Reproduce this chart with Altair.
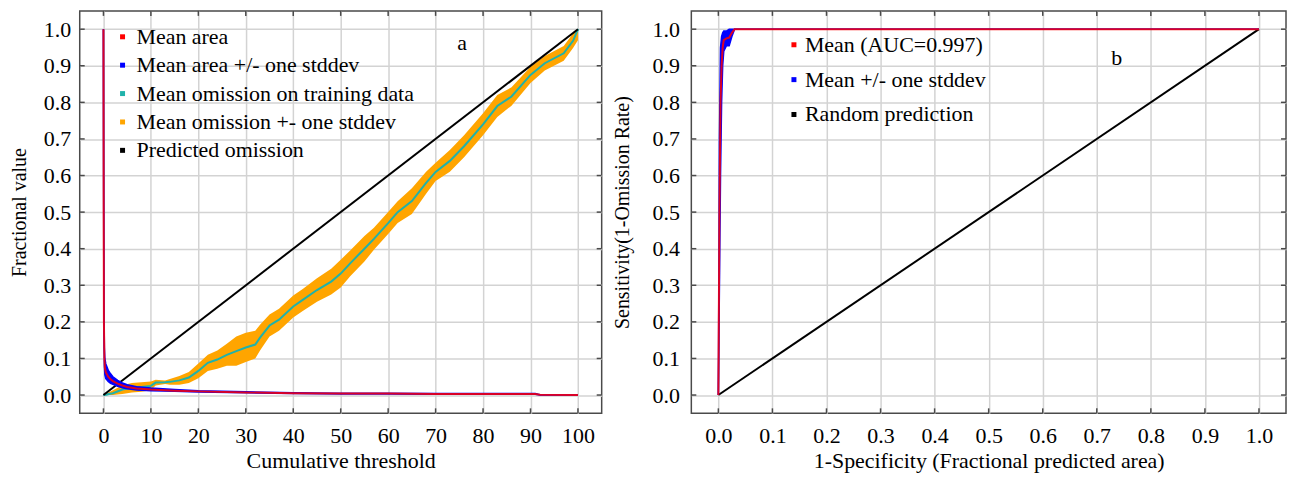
import altair as alt
import pandas as pd

FONT = "Liberation Serif"
FS = 22

# ---------------- Panel a: omission / area vs cumulative threshold ----------------
area_x = [0, 0.05, 0.1, 0.2, 0.3, 0.5, 0.8, 1, 1.5, 2, 3, 4, 5, 7, 10, 15, 20, 30,
          40, 50, 60, 70, 80, 90, 91, 92, 100]
area_mean = [1.0, 0.5, 0.2, 0.1, 0.075, 0.062, 0.055, 0.05, 0.043, 0.038, 0.031, 0.026,
             0.022, 0.018, 0.015, 0.012, 0.01, 0.007, 0.005, 0.004, 0.004, 0.003, 0.003,
             0.003, 0.003, 0.0005, 0.0]
area_lo = [1.0, 0.45, 0.17, 0.08, 0.055, 0.045, 0.04, 0.037, 0.032, 0.029, 0.024, 0.02,
           0.017, 0.014, 0.012, 0.01, 0.008, 0.006, 0.004, 0.003, 0.003, 0.002, 0.002,
           0.002, 0.002, 0.0, 0.0]
area_hi = [1.0, 0.55, 0.25, 0.13, 0.1, 0.085, 0.075, 0.068, 0.058, 0.05, 0.04, 0.033,
           0.028, 0.023, 0.019, 0.015, 0.012, 0.009, 0.006, 0.005, 0.005, 0.004, 0.004,
           0.004, 0.004, 0.001, 0.0]

omit_x = [0, 2, 4, 6, 8, 10, 11, 13, 14, 16, 18, 20, 22, 24, 26, 28, 30, 32, 33, 35, 37,
          40, 42, 45, 48, 50, 52, 55, 57, 60, 62, 65, 68, 70, 73, 76, 80, 83, 86, 90, 93,
          97, 99, 100]
omit_mean = [0, 0.005, 0.015, 0.02, 0.022, 0.025, 0.034, 0.035, 0.036, 0.04, 0.048, 0.066,
             0.088, 0.097, 0.11, 0.12, 0.13, 0.138, 0.157, 0.19, 0.206, 0.242, 0.26, 0.287,
             0.31, 0.332, 0.36, 0.40, 0.427, 0.47, 0.5, 0.53, 0.58, 0.61, 0.64, 0.68, 0.74,
             0.79, 0.816, 0.875, 0.907, 0.934, 0.969, 1.0]
omit_lo = [0, 0, 0.003, 0.007, 0.009, 0.013, 0.026, 0.03, 0.028, 0.028, 0.033, 0.046, 0.066,
           0.072, 0.08, 0.08, 0.09, 0.1, 0.122, 0.16, 0.176, 0.212, 0.23, 0.255, 0.275,
           0.294, 0.325, 0.365, 0.397, 0.44, 0.47, 0.495, 0.55, 0.585, 0.61, 0.65, 0.71,
           0.76, 0.791, 0.853, 0.887, 0.914, 0.949, 0.97]
omit_hi = [0, 0.013, 0.027, 0.033, 0.035, 0.037, 0.042, 0.04, 0.044, 0.052, 0.063, 0.086,
           0.11, 0.122, 0.14, 0.16, 0.17, 0.176, 0.192, 0.22, 0.236, 0.272, 0.29, 0.319,
           0.345, 0.37, 0.395, 0.435, 0.457, 0.5, 0.53, 0.565, 0.61, 0.635, 0.67, 0.71,
           0.77, 0.82, 0.841, 0.897, 0.927, 0.954, 0.989, 1.0]

pred_x = [0, 100]
pred_y = [0.0, 1.0]

a_names = ["Mean area", "Mean area +/- one stddev", "Mean omission on training data",
           "Mean omission +- one stddev", "Predicted omission"]
a_colors = ["#ff0000", "#0000ff", "#20b2aa", "#ffa500", "#000000"]

a_xticks = [0, 10, 20, 30, 40, 50, 60, 70, 80, 90, 100]
frac_ticks = [0.0, 0.1, 0.2, 0.3, 0.4, 0.5, 0.6, 0.7, 0.8, 0.9, 1.0]

# ---------------- Panel b: ROC ----------------
roc_x = [0, 0.002, 0.004, 0.006, 0.008, 0.01, 0.015, 0.02, 0.025, 0.03, 1.0]
roc_mean = [0, 0.5, 0.8, 0.9, 0.95, 0.97, 0.975, 0.977, 0.99, 1.0, 1.0]
roc_lo = [0, 0.3, 0.6, 0.8, 0.9, 0.94, 0.955, 0.955, 0.98, 1.0, 1.0]
roc_hi = [0, 0.7, 0.95, 0.98, 0.99, 0.995, 0.995, 1.0, 1.0, 1.0, 1.0]
rand_x = [0.0, 1.0]
rand_y = [0.0, 1.0]

b_names = ["Mean (AUC=0.997)", "Mean +/- one stddev", "Random prediction"]
b_colors = ["#ff0000", "#0000ff", "#000000"]

BORDER = "#4a4a4a"
H = 404
WA = 524
WB = 597
TICK = 5
RED_OP = 0.85


def make_enc(domain, ticks, fmt, xtitle, ytitle, lp_x, tp_x, lp_y, tp_y):
    xs = alt.Scale(domain=domain, nice=False, zero=False)
    ys = alt.Scale(domain=[-0.05, 1.05], nice=False, zero=False)
    x_main = alt.X("x:Q", scale=xs, axis=alt.Axis(
        values=ticks, tickCount=len(ticks), format=fmt, title=xtitle, grid=True,
        domain=False, ticks=False, tickSize=0, labelPadding=lp_x, titlePadding=tp_x,
        labelFlush=False, labelOverlap=False))
    y_main = alt.Y("y:Q", scale=ys, axis=alt.Axis(
        values=frac_ticks, tickCount=len(frac_ticks), format=".1f", title=ytitle,
        grid=True, domain=False, ticks=False, tickSize=0, labelPadding=lp_y,
        titlePadding=tp_y, labelFlush=False, labelOverlap=False, titleFontSize=20))
    return x_main, y_main


def inner_ticks(xticks, yticks, x_enc, y_enc, w):
    """Short inward tick marks on all four sides, positioned by the scales."""
    dx = pd.DataFrame({"x": xticks})
    dy = pd.DataFrame({"y": yticks})
    st = dict(color=BORDER, strokeWidth=1.5)
    bottom = alt.Chart(dx).mark_rule(**st).encode(
        x=x_enc, y=alt.value(H), y2=alt.value(H - TICK))
    top = alt.Chart(dx).mark_rule(**st).encode(
        x=x_enc, y=alt.value(0), y2=alt.value(TICK))
    left = alt.Chart(dy).mark_rule(**st).encode(
        y=y_enc, x=alt.value(0), x2=alt.value(TICK))
    right = alt.Chart(dy).mark_rule(**st).encode(
        y=y_enc, x=alt.value(w), x2=alt.value(w - TICK))
    return [bottom, top, left, right]


def legend_layer(names, colors, x_enc, y_enc, lx, ly, offset, rowpad):
    df = pd.DataFrame({"series": names, "x": [0.0] * len(names), "y": [0.0] * len(names)})
    return alt.Chart(df).mark_square(opacity=0, size=25).encode(
        x=x_enc, y=y_enc,
        color=alt.Color("series:N", sort=names,
                        scale=alt.Scale(domain=names, range=colors),
                        legend=alt.Legend(orient="none", legendX=lx, legendY=ly,
                                          title=None, symbolType="square",
                                          symbolSize=25, symbolOpacity=1,
                                          symbolStrokeWidth=0, labelFont=FONT,
                                          labelFontSize=FS, labelColor="black",
                                          labelLimit=600, labelOffset=offset,
                                          rowPadding=rowpad, padding=0)))


# ----- panel a -----
xa, ya = make_enc([-5, 105], a_xticks, "d", "Cumulative threshold",
                  "Fractional value", 12, 4, 9, 14)

df_area = pd.DataFrame({"x": area_x, "y": area_mean, "lo": area_lo, "hi": area_hi})
df_omit = pd.DataFrame({"x": omit_x, "y": omit_mean, "lo": omit_lo, "hi": omit_hi})
df_pred = pd.DataFrame({"x": pred_x, "y": pred_y})

a_teal = alt.Chart(df_omit).mark_line(color="#20b2aa", strokeWidth=2).encode(x=xa, y=ya)
a_orange = alt.Chart(df_omit).mark_area(color="#ffa500", opacity=1).encode(
    x=xa, y=alt.Y("lo:Q"), y2="hi:Q")
a_black = alt.Chart(df_pred).mark_line(color="black", strokeWidth=2).encode(x=xa, y=ya)
a_blue = alt.Chart(df_area).mark_area(color="#0000ff", opacity=1).encode(
    x=xa, y=alt.Y("lo:Q"), y2="hi:Q")
a_blue_lo = alt.Chart(df_area).mark_line(color="#0000ff", strokeWidth=1.5).encode(
    x=xa, y=alt.Y("lo:Q"))
a_blue_hi = alt.Chart(df_area).mark_line(color="#0000ff", strokeWidth=1.5).encode(
    x=xa, y=alt.Y("hi:Q"))
a_red = alt.Chart(df_area).mark_line(color="#ff0000", strokeWidth=2,
                                     opacity=RED_OP).encode(x=xa, y=ya)
a_leg = legend_layer(a_names, a_colors, xa, ya, 32, 15, 3, 6.5)
a_txt = alt.Chart(pd.DataFrame({"t": ["a"]})).mark_text(
    font=FONT, fontSize=FS, color="black").encode(
    text="t:N", x=alt.value(384), y=alt.value(32))

panel_a = alt.layer(a_teal, a_orange, a_teal, a_black, a_blue, a_blue_lo, a_blue_hi,
                    a_red, *inner_ticks(a_xticks, frac_ticks, xa, ya, WA),
                    a_leg, a_txt).properties(width=WA, height=H)

# ----- panel b -----
xb, yb = make_enc([-0.05, 1.05], frac_ticks, ".1f",
                  "1-Specificity (Fractional predicted area)",
                  "Sensitivity(1-Omission Rate)", 12, 4, 12, 19.5)

df_roc = pd.DataFrame({"x": roc_x, "y": roc_mean, "lo": roc_lo, "hi": roc_hi})
df_rand = pd.DataFrame({"x": rand_x, "y": rand_y})

b_black = alt.Chart(df_rand).mark_line(color="black", strokeWidth=2).encode(x=xb, y=yb)
b_blue = alt.Chart(df_roc).mark_area(color="#0000ff", opacity=1).encode(
    x=xb, y=alt.Y("lo:Q"), y2="hi:Q")
b_blue_lo = alt.Chart(df_roc).mark_line(color="#0000ff", strokeWidth=1.5).encode(
    x=xb, y=alt.Y("lo:Q"))
b_blue_hi = alt.Chart(df_roc).mark_line(color="#0000ff", strokeWidth=1.5).encode(
    x=xb, y=alt.Y("hi:Q"))
b_red = alt.Chart(df_roc).mark_line(color="#ff0000", strokeWidth=2,
                                    opacity=RED_OP).encode(x=xb, y=yb)
b_leg = legend_layer(b_names, b_colors, xb, yb, 92, 23, 0, 13)
b_txt = alt.Chart(pd.DataFrame({"t": ["b"]})).mark_text(
    font=FONT, fontSize=FS, color="black").encode(
    text="t:N", x=alt.value(427), y=alt.value(47))

panel_b = alt.layer(b_black, b_blue, b_blue_lo, b_blue_hi, b_red,
                    *inner_ticks(frac_ticks, frac_ticks, xb, yb, WB),
                    b_leg, b_txt).properties(width=WB, height=H)

chart = alt.hconcat(panel_a, panel_b, spacing=8).resolve_scale(
    color="independent").resolve_legend(color="independent").properties(
    padding={"left": 0, "top": 0, "right": 0, "bottom": 0},
    background="white"
).configure_view(
    stroke=BORDER, strokeWidth=1.5
).configure_axis(
    labelFont=FONT, titleFont=FONT, labelFontSize=FS, titleFontSize=FS,
    labelColor="black", titleColor="black", titleFontWeight="normal",
    gridColor="#d3d3d3", gridWidth=1.5
)

chart.save("out.html", embed_options={"renderer": "svg", "actions": False})
